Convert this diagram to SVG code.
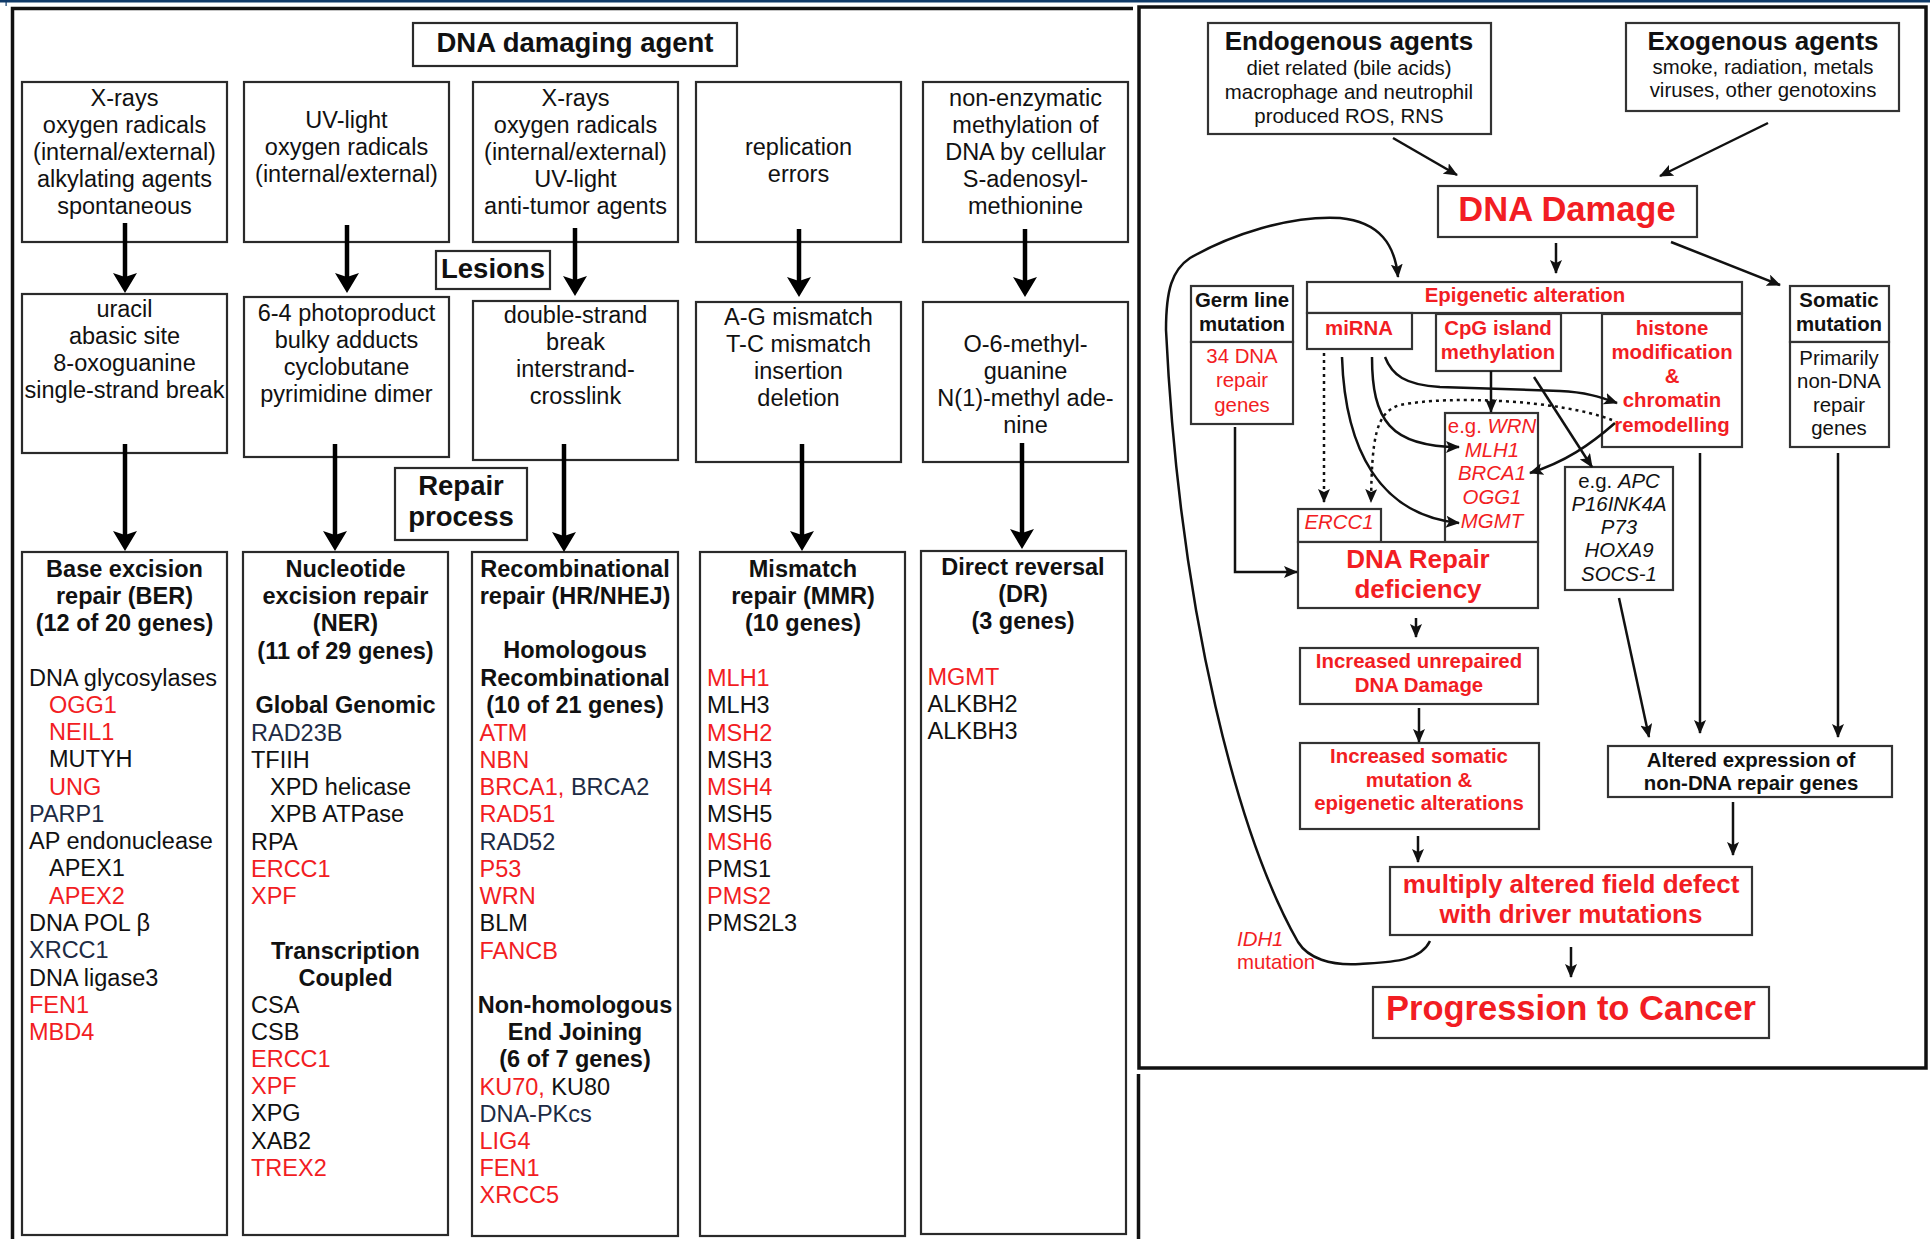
<svg xmlns="http://www.w3.org/2000/svg" width="1930" height="1239" viewBox="0 0 1930 1239">
<defs>
<style>
text{font-family:"Liberation Sans",Arial,sans-serif;fill:#111}
.a{font-size:23.5px}
.c{text-anchor:middle}
.b{font-weight:bold}
.r{fill:#f21d23}
.nv{fill:#1d2b44}
.s{font-size:20.4px}
.m{font-size:26px}
.xl{font-size:34.5px}
.h{font-size:27.5px}
.i{font-style:italic}
.n{font-style:normal}
.box{fill:#fff;stroke:#2a2a2a;stroke-width:2.2}
.rb{fill:#fff;stroke:#333;stroke-width:2.2}
.ar{stroke:#000;stroke-width:4.5;fill:none;marker-end:url(#big)}
.tn{stroke:#111;stroke-width:2.5;fill:none;marker-end:url(#sm)}
.ln{stroke:#111;stroke-width:2.5;fill:none}
.dt{stroke-dasharray:3 4}
.frame{fill:none;stroke:#111;stroke-width:3.5}
</style>
<marker id="big" markerUnits="userSpaceOnUse" viewBox="0 0 20 24" markerWidth="20" markerHeight="24" refX="12" refY="12" orient="auto"><path d="M0,0 L20,12 L0,24 L4,12 z" fill="#000"/></marker>
<marker id="sm" markerUnits="userSpaceOnUse" viewBox="0 0 14 12" markerWidth="14" markerHeight="12" refX="13" refY="6" orient="auto"><path d="M0,0 L14,6 L0,12 L3,6 z" fill="#111"/></marker>
</defs>
<rect x="0" y="0" width="1930" height="1239" fill="#fff"/>
<rect x="0" y="0" width="1930" height="2.5" fill="#0f3a68"/>
<rect x="5.5" y="0" width="1.2" height="6" fill="#0f3a68"/>

<g id="frames">
<path class="frame" d="M12.5,1245 V8.5 H1133"/>
<path class="frame" d="M1138.5,1074 V1245"/>
<rect class="frame" x="1139" y="7" width="787" height="1061"/>
</g>

<!-- LEFT PANEL -->
<g id="dna-damaging-agent"><rect class="box" x="413" y="23" width="324" height="43"/><text class="b h c" x="575" y="52">DNA damaging agent</text></g>

<g id="agent-1"><rect class="box" x="22" y="82" width="205" height="160"/>
<text class="a c"><tspan x="124.5" y="106">X-rays</tspan><tspan x="124.5" y="133">oxygen radicals</tspan><tspan x="124.5" y="160">(internal/external)</tspan><tspan x="124.5" y="187">alkylating agents</tspan><tspan x="124.5" y="214">spontaneous</tspan></text></g>
<g id="agent-2"><rect class="box" x="244" y="82" width="205" height="160"/>
<text class="a c"><tspan x="346.5" y="128">UV-light</tspan><tspan x="346.5" y="155">oxygen radicals</tspan><tspan x="346.5" y="182">(internal/external)</tspan></text></g>
<g id="agent-3"><rect class="box" x="473" y="82" width="205" height="160"/>
<text class="a c"><tspan x="575.5" y="106">X-rays</tspan><tspan x="575.5" y="133">oxygen radicals</tspan><tspan x="575.5" y="160">(internal/external)</tspan><tspan x="575.5" y="187">UV-light</tspan><tspan x="575.5" y="214">anti-tumor agents</tspan></text></g>
<g id="agent-4"><rect class="box" x="696" y="82" width="205" height="160"/>
<text class="a c"><tspan x="798.5" y="155">replication</tspan><tspan x="798.5" y="182">errors</tspan></text></g>
<g id="agent-5"><rect class="box" x="923" y="82" width="205" height="160"/>
<text class="a c"><tspan x="1025.5" y="106">non-enzymatic</tspan><tspan x="1025.5" y="133">methylation of</tspan><tspan x="1025.5" y="160">DNA by cellular</tspan><tspan x="1025.5" y="187">S-adenosyl-</tspan><tspan x="1025.5" y="214">methionine</tspan></text></g>

<g id="lesions-label"><rect class="box" x="436" y="251" width="114" height="38"/><text class="b h c" x="493" y="278">Lesions</text></g>

<g id="lesion-1"><rect class="box" x="22" y="294" width="205" height="159"/>
<text class="a c"><tspan x="124.5" y="317">uracil</tspan><tspan x="124.5" y="344">abasic site</tspan><tspan x="124.5" y="371">8-oxoguanine</tspan><tspan x="124.5" y="398">single-strand break</tspan></text></g>
<g id="lesion-2"><rect class="box" x="244" y="297" width="205" height="160"/>
<text class="a c"><tspan x="346.5" y="321">6-4 photoproduct</tspan><tspan x="346.5" y="348">bulky adducts</tspan><tspan x="346.5" y="375">cyclobutane</tspan><tspan x="346.5" y="402">pyrimidine dimer</tspan></text></g>
<g id="lesion-3"><rect class="box" x="473" y="301" width="205" height="159"/>
<text class="a c"><tspan x="575.5" y="323">double-strand</tspan><tspan x="575.5" y="350">break</tspan><tspan x="575.5" y="377">interstrand-</tspan><tspan x="575.5" y="404">crosslink</tspan></text></g>
<g id="lesion-4"><rect class="box" x="696" y="302" width="205" height="160"/>
<text class="a c"><tspan x="798.5" y="325">A-G mismatch</tspan><tspan x="798.5" y="352">T-C mismatch</tspan><tspan x="798.5" y="379">insertion</tspan><tspan x="798.5" y="406">deletion</tspan></text></g>
<g id="lesion-5"><rect class="box" x="923" y="302" width="205" height="160"/>
<text class="a c"><tspan x="1025.5" y="352">O-6-methyl-</tspan><tspan x="1025.5" y="379">guanine</tspan><tspan x="1025.5" y="406">N(1)-methyl ade-</tspan><tspan x="1025.5" y="433">nine</tspan></text></g>

<g id="repair-process-label"><rect class="box" x="395" y="468" width="132" height="72"/>
<text class="b h c"><tspan x="461" y="495">Repair</tspan><tspan x="461" y="526">process</tspan></text></g>

<g id="ber"><rect class="box" x="22" y="552" width="205" height="683"/>
<text class="a b c"><tspan x="124.5" y="577">Base excision</tspan><tspan x="124.5" y="604">repair (BER)</tspan><tspan x="124.5" y="631">(12 of 20 genes)</tspan></text>
<text class="a" x="29" y="686">DNA glycosylases</text>
<text class="a r" x="49" y="713">OGG1</text>
<text class="a r" x="49" y="740">NEIL1</text>
<text class="a" x="49" y="767">MUTYH</text>
<text class="a r" x="49" y="795">UNG</text>
<text class="a nv" x="29" y="822">PARP1</text>
<text class="a" x="29" y="849">AP endonuclease</text>
<text class="a" x="49" y="876">APEX1</text>
<text class="a r" x="49" y="904">APEX2</text>
<text class="a" x="29" y="931">DNA POL β</text>
<text class="a nv" x="29" y="958">XRCC1</text>
<text class="a" x="29" y="986">DNA ligase3</text>
<text class="a r" x="29" y="1013">FEN1</text>
<text class="a r" x="29" y="1040">MBD4</text></g>

<g id="ner"><rect class="box" x="243" y="552" width="205" height="683"/>
<text class="a b c"><tspan x="345.5" y="577">Nucleotide</tspan><tspan x="345.5" y="604">excision repair</tspan><tspan x="345.5" y="631">(NER)</tspan><tspan x="345.5" y="659">(11 of 29 genes)</tspan><tspan x="345.5" y="713">Global Genomic</tspan></text>
<text class="a nv" x="251" y="741">RAD23B</text>
<text class="a" x="251" y="768">TFIIH</text>
<text class="a" x="270" y="795">XPD helicase</text>
<text class="a" x="270" y="822">XPB ATPase</text>
<text class="a" x="251" y="850">RPA</text>
<text class="a r" x="251" y="877">ERCC1</text>
<text class="a r" x="251" y="904">XPF</text>
<text class="a b c"><tspan x="345.5" y="959">Transcription</tspan><tspan x="345.5" y="986">Coupled</tspan></text>
<text class="a" x="251" y="1013">CSA</text>
<text class="a" x="251" y="1040">CSB</text>
<text class="a r" x="251" y="1067">ERCC1</text>
<text class="a r" x="251" y="1094">XPF</text>
<text class="a" x="251" y="1121">XPG</text>
<text class="a" x="251" y="1149">XAB2</text>
<text class="a r" x="251" y="1176">TREX2</text></g>

<g id="hr-nhej"><rect class="box" x="472" y="552" width="206" height="684"/>
<text class="a b c"><tspan x="575" y="577">Recombinational</tspan><tspan x="575" y="604">repair (HR/NHEJ)</tspan><tspan x="575" y="658">Homologous</tspan><tspan x="575" y="686">Recombinational</tspan><tspan x="575" y="713">(10 of 21 genes)</tspan></text>
<text class="a r" x="479.5" y="741">ATM</text>
<text class="a r" x="479.5" y="768">NBN</text>
<text class="a" x="479.5" y="795"><tspan class="r">BRCA1,</tspan><tspan class="nv"> BRCA2</tspan></text>
<text class="a r" x="479.5" y="822">RAD51</text>
<text class="a nv" x="479.5" y="850">RAD52</text>
<text class="a r" x="479.5" y="877">P53</text>
<text class="a r" x="479.5" y="904">WRN</text>
<text class="a" x="479.5" y="931">BLM</text>
<text class="a r" x="479.5" y="959">FANCB</text>
<text class="a b c"><tspan x="575" y="1013">Non-homologous</tspan><tspan x="575" y="1040">End Joining</tspan><tspan x="575" y="1067">(6 of 7 genes)</tspan></text>
<text class="a" x="479.5" y="1095"><tspan class="r">KU70,</tspan><tspan> KU80</tspan></text>
<text class="a nv" x="479.5" y="1122">DNA-PKcs</text>
<text class="a r" x="479.5" y="1149">LIG4</text>
<text class="a r" x="479.5" y="1176">FEN1</text>
<text class="a r" x="479.5" y="1203">XRCC5</text></g>

<g id="mmr"><rect class="box" x="700" y="552" width="205" height="684"/>
<text class="a b c"><tspan x="803" y="577">Mismatch</tspan><tspan x="803" y="604">repair (MMR)</tspan><tspan x="803" y="631">(10 genes)</tspan></text>
<text class="a r" x="707" y="686">MLH1</text>
<text class="a" x="707" y="713">MLH3</text>
<text class="a r" x="707" y="741">MSH2</text>
<text class="a" x="707" y="768">MSH3</text>
<text class="a r" x="707" y="795">MSH4</text>
<text class="a" x="707" y="822">MSH5</text>
<text class="a r" x="707" y="850">MSH6</text>
<text class="a" x="707" y="877">PMS1</text>
<text class="a r" x="707" y="904">PMS2</text>
<text class="a" x="707" y="931">PMS2L3</text></g>

<g id="dr"><rect class="box" x="921" y="551" width="205" height="683"/>
<text class="a b c"><tspan x="1023" y="575">Direct reversal</tspan><tspan x="1023" y="602">(DR)</tspan><tspan x="1023" y="629">(3 genes)</tspan></text>
<text class="a r" x="927.5" y="685">MGMT</text>
<text class="a" x="927.5" y="712">ALKBH2</text>
<text class="a" x="927.5" y="739">ALKBH3</text></g>

<!-- RIGHT PANEL -->
<g id="endogenous"><rect class="rb" x="1208" y="23" width="283" height="111"/>
<text class="b m c" x="1349" y="50">Endogenous agents</text>
<text class="s c"><tspan x="1349" y="75">diet related (bile acids)</tspan><tspan x="1349" y="99">macrophage and neutrophil</tspan><tspan x="1349" y="123">produced ROS, RNS</tspan></text></g>
<g id="exogenous"><rect class="rb" x="1626" y="23" width="273" height="88"/>
<text class="b m c" x="1763" y="50">Exogenous agents</text>
<text class="s c"><tspan x="1763" y="74">smoke, radiation, metals</tspan><tspan x="1763" y="97">viruses, other genotoxins</tspan></text></g>
<g id="dna-damage"><rect class="rb" x="1438" y="186" width="259" height="51"/><text class="b xl c r" x="1567" y="221">DNA Damage</text></g>

<g id="germline"><rect class="rb" x="1191" y="286" width="102" height="56"/>
<text class="b s c"><tspan x="1242" y="307">Germ line</tspan><tspan x="1242" y="331">mutation</tspan></text>
<rect class="rb" x="1191" y="342" width="102" height="82"/>
<text class="s c r"><tspan x="1242" y="363">34 DNA</tspan><tspan x="1242" y="387">repair</tspan><tspan x="1242" y="412">genes</tspan></text></g>

<g id="somatic"><rect class="rb" x="1790" y="286" width="99" height="56"/>
<text class="b s c"><tspan x="1839" y="307">Somatic</tspan><tspan x="1839" y="331">mutation</tspan></text>
<rect class="rb" x="1790" y="342" width="99" height="105"/>
<text class="s c"><tspan x="1839" y="365">Primarily</tspan><tspan x="1839" y="388">non-DNA</tspan><tspan x="1839" y="412">repair</tspan><tspan x="1839" y="435">genes</tspan></text></g>

<g id="epigenetic"><rect class="rb" x="1307" y="282" width="435" height="31"/>
<text class="b s c r" x="1525" y="302">Epigenetic alteration</text></g>
<g id="mirna"><rect class="rb" x="1307" y="313" width="105" height="36"/><text class="b s c r" x="1359" y="335">miRNA</text></g>
<g id="cpg"><rect class="rb" x="1436" y="314" width="125" height="57"/>
<text class="b s c r"><tspan x="1498" y="335">CpG island</tspan><tspan x="1498" y="359">methylation</tspan></text></g>
<g id="histone"><rect class="rb" x="1602" y="314" width="140" height="133"/>
<text class="b s c r"><tspan x="1672" y="335">histone</tspan><tspan x="1672" y="359">modification</tspan><tspan x="1672" y="383">&amp;</tspan><tspan x="1672" y="407">chromatin</tspan><tspan x="1672" y="432">remodelling</tspan></text></g>

<g id="repair-genes"><rect class="rb" x="1445" y="413" width="93" height="129"/>
<text class="s c r i"><tspan x="1492" y="433"><tspan class="n">e.g. </tspan>WRN</tspan><tspan x="1492" y="457">MLH1</tspan><tspan x="1492" y="480">BRCA1</tspan><tspan x="1492" y="504">OGG1</tspan><tspan x="1492" y="528">MGMT</tspan></text></g>
<g id="ercc1"><rect class="rb" x="1298" y="509" width="83" height="33"/><text class="s c r i" x="1339" y="529">ERCC1</text></g>
<g id="dna-repair-deficiency"><rect class="rb" x="1298" y="542" width="240" height="66"/>
<text class="b m c r"><tspan x="1418" y="568">DNA Repair</tspan><tspan x="1418" y="598">deficiency</tspan></text></g>
<g id="non-repair-genes"><rect class="rb" x="1565" y="467" width="108" height="123"/>
<text class="s c i"><tspan x="1619" y="488"><tspan class="n">e.g. </tspan>APC</tspan><tspan x="1619" y="511">P16INK4A</tspan><tspan x="1619" y="534">P73</tspan><tspan x="1619" y="557">HOXA9</tspan><tspan x="1619" y="581">SOCS-1</tspan></text></g>

<g id="unrepaired"><rect class="rb" x="1300" y="648" width="238" height="56"/>
<text class="b s c r"><tspan x="1419" y="668">Increased unrepaired</tspan><tspan x="1419" y="692">DNA Damage</tspan></text></g>
<g id="somatic-increase"><rect class="rb" x="1300" y="743" width="239" height="86"/>
<text class="b s c r"><tspan x="1419" y="763">Increased somatic</tspan><tspan x="1419" y="787">mutation &amp;</tspan><tspan x="1419" y="810">epigenetic alterations</tspan></text></g>
<g id="altered-expression"><rect class="rb" x="1608" y="746" width="284" height="51"/>
<text class="b s c"><tspan x="1751" y="767">Altered expression of</tspan><tspan x="1751" y="790">non-DNA repair genes</tspan></text></g>
<g id="field-defect"><rect class="rb" x="1390" y="867" width="362" height="68"/>
<text class="b m c r"><tspan x="1571" y="893">multiply altered field defect</tspan><tspan x="1571" y="923">with driver mutations</tspan></text></g>
<g id="cancer"><rect class="rb" x="1373" y="987" width="396" height="51"/><text class="b xl c r" x="1571" y="1020">Progression to Cancer</text></g>
<g id="idh1-label"><text class="s r"><tspan class="i" x="1237" y="946">IDH1</tspan><tspan x="1237" y="969">mutation</tspan></text></g>

<g id="connectors">
<path class="ar" d="M125,223 V285"/>
<path class="ar" d="M347,225 V285"/>
<path class="ar" d="M575,228 V288"/>
<path class="ar" d="M799,229 V289"/>
<path class="ar" d="M1025,229 V289"/>
<path class="ar" d="M125,444 V543"/>
<path class="ar" d="M335,444 V543"/>
<path class="ar" d="M564,444 V544"/>
<path class="ar" d="M802,444 V543"/>
<path class="ar" d="M1022,443 V541"/>

<path class="tn" d="M1393,138 L1457,175"/>
<path class="tn" d="M1768,123 L1660,176"/>
<path class="tn" d="M1556,243 V273"/>
<path class="tn" d="M1671,242 L1780,285"/>
<path class="tn" d="M1430,941 C1420,962 1390,962 1360,964 C1330,966 1308,958 1298,942 C1240,840 1180,620 1166,330 C1166,290 1172,270 1190,258 C1230,235 1290,215 1340,218 C1380,222 1395,245 1398,277"/>
<path class="tn" d="M1235,427 V572 H1297"/>
<path class="tn dt" d="M1324,353 V502"/>
<path class="tn" d="M1342,357 C1345,450 1380,515 1459,523"/>
<path class="tn" d="M1372,357 C1372,420 1390,447 1459,447"/>
<path class="tn" d="M1385,357 C1392,375 1405,385 1440,387 L1560,391 C1585,392 1600,397 1617,403"/>
<path class="tn" d="M1491,371 V412"/>
<path class="tn" d="M1534,377 L1592,467"/>
<path class="tn dt" d="M1612,420 C1560,400 1450,395 1400,405 C1375,412 1372,440 1371,502"/>
<path class="tn" d="M1615,423 C1590,445 1565,462 1530,473"/>
<path class="tn" d="M1700,453 V733"/>
<path class="tn" d="M1838,453 V737"/>
<path class="tn" d="M1619,598 L1649,737"/>
<path class="tn" d="M1416,618 V637"/>
<path class="tn" d="M1419,708 V742"/>
<path class="tn" d="M1418,836 V862"/>
<path class="tn" d="M1733,802 V855"/>
<path class="tn" d="M1571,947 V977"/>
</g>
</svg>
